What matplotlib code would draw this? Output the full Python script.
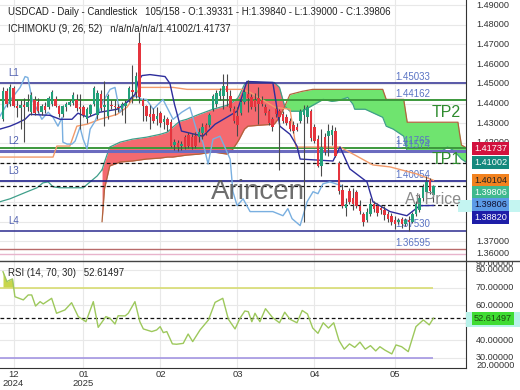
import numpy as np
import matplotlib.pyplot as plt
from matplotlib.lines import Line2D
from matplotlib.patches import Rectangle

plt.rcParams['font.family'] = ['Liberation Sans', 'DejaVu Sans']

W, H = 520, 390

# ---- candles (bar index on the chart) ----
opens = [1.4320, 1.4462, 1.4400, 1.4480, 1.4390, 1.4375, 1.4395, 1.4380, 1.4355, 1.4420,
         1.4410, 1.4355, 1.4385, 1.4380, 1.4400, 1.4425, 1.4385, 1.4345, 1.4380, 1.4395,
         1.4405, 1.4420, 1.4380, 1.4380, 1.4320, 1.4345, 1.4400, 1.4340, 1.4450, 1.4380,
         1.4335, 1.4395, 1.4390, 1.4380, 1.4370, 1.4390, 1.4425, 1.4470, 1.4460, 1.4710,
         1.4420, 1.4385, 1.4345, 1.4345, 1.4320, 1.4350, 1.4305, 1.4320, 1.4305, 1.4190,
         1.4200, 1.4185, 1.4230, 1.4240, 1.4230, 1.4235, 1.4230, 1.4250, 1.4290, 1.4290,
         1.4370, 1.4400, 1.4440, 1.4440, 1.4490, 1.4440, 1.4370, 1.4335, 1.4350, 1.4410,
         1.4450, 1.4435, 1.4420, 1.4430, 1.4420, 1.4380, 1.4360, 1.4320, 1.4370, 1.4360,
         1.4345, 1.4330, 1.4310, 1.4290, 1.4280, 1.4310, 1.4340, 1.4330, 1.4360, 1.4280,
         1.4220, 1.4085, 1.4230, 1.4235, 1.4240, 1.4260, 1.4100, 1.3960, 1.3870, 1.3955,
         1.3920, 1.3950, 1.3880, 1.3840, 1.3810, 1.3840, 1.3890, 1.3880, 1.3870, 1.3860,
         1.3840, 1.3830, 1.3810, 1.3800, 1.3815, 1.3790, 1.3810, 1.3800, 1.3840, 1.3860,
         1.3920, 1.3950, 1.4010, 1.39331]
highs = [1.4482, 1.4480, 1.4500, 1.4490, 1.4420, 1.4420, 1.4430, 1.4450, 1.4460, 1.4440,
         1.4430, 1.4400, 1.4410, 1.4440, 1.4470, 1.4440, 1.4395, 1.4395, 1.4410, 1.4420,
         1.4460, 1.4450, 1.4450, 1.4395, 1.4380, 1.4400, 1.4490, 1.4470, 1.4470, 1.4512,
         1.4450, 1.4420, 1.4420, 1.4400, 1.4410, 1.4420, 1.4490, 1.4598, 1.4560, 1.4765,
         1.4430, 1.4395, 1.4395, 1.4375, 1.4380, 1.4360, 1.4340, 1.4330, 1.4320, 1.4220,
         1.4215, 1.4210, 1.4240, 1.4255, 1.4250, 1.4255, 1.4275, 1.4300, 1.4300, 1.4350,
         1.4450, 1.4470, 1.4480, 1.4548, 1.4548, 1.4470, 1.4390, 1.4380, 1.4420, 1.4475,
         1.4522, 1.4450, 1.4455, 1.4482, 1.4440, 1.4400, 1.4370, 1.4330, 1.4390, 1.4370,
         1.4360, 1.4345, 1.4325, 1.4310, 1.4300, 1.4370, 1.4395, 1.4395, 1.4370, 1.4295,
         1.4240, 1.4270, 1.4250, 1.4295, 1.4290, 1.4280, 1.4110, 1.3990, 1.3920, 1.3970,
         1.3970, 1.3960, 1.3910, 1.3850, 1.3870, 1.3920, 1.3905, 1.3895, 1.3885, 1.3880,
         1.3855, 1.3845, 1.3830, 1.3820, 1.3825, 1.3820, 1.3830, 1.3850, 1.3905, 1.3940,
         1.3990, 1.4030, 1.4020, 1.39840]
lows = [1.4310, 1.4380, 1.4390, 1.4380, 1.4330, 1.4270, 1.4205, 1.4360, 1.4340, 1.4340,
        1.4350, 1.4340, 1.4350, 1.4370, 1.4390, 1.4380, 1.4330, 1.4330, 1.4360, 1.4385,
        1.4395, 1.4360, 1.4270, 1.4330, 1.4300, 1.4335, 1.4390, 1.4320, 1.4360, 1.4285,
        1.4320, 1.4370, 1.4340, 1.4355, 1.4340, 1.4300, 1.4410, 1.4405, 1.4430, 1.4405,
        1.4310, 1.4310, 1.4270, 1.4300, 1.4290, 1.4280, 1.4270, 1.4260, 1.4180, 1.4165,
        1.4160, 1.4165, 1.4170, 1.4175, 1.4170, 1.4175, 1.4205, 1.4220, 1.4240, 1.4280,
        1.4360, 1.4380, 1.4420, 1.4370, 1.4385, 1.4360, 1.4300, 1.4235, 1.4340, 1.4400,
        1.4355, 1.4370, 1.4360, 1.4295, 1.4390, 1.4340, 1.4290, 1.4260, 1.4330, 1.4060,
        1.4300, 1.4290, 1.4260, 1.4250, 1.4260, 1.4300, 1.3800, 1.4300, 1.4210, 1.4200,
        1.4080, 1.4030, 1.4140, 1.4135, 1.4190, 1.4130, 1.3940, 1.3870, 1.3830, 1.3890,
        1.3860, 1.3870, 1.3840, 1.3780, 1.3800, 1.3830, 1.3850, 1.3830, 1.3840, 1.3810,
        1.3800, 1.3785, 1.3765, 1.3790, 1.3770, 1.3780, 1.3750, 1.3795, 1.3830, 1.3850,
        1.3905, 1.3940, 1.3940, 1.39000]
closes = [1.4462, 1.4400, 1.4482, 1.4390, 1.4375, 1.4395, 1.4380, 1.4410, 1.4445, 1.4350,
          1.4360, 1.4385, 1.4365, 1.4430, 1.4460, 1.4390, 1.4345, 1.4385, 1.4400, 1.4410,
          1.4445, 1.4375, 1.4370, 1.4340, 1.4370, 1.4395, 1.4480, 1.4455, 1.4375, 1.4395,
          1.4440, 1.4385, 1.4380, 1.4375, 1.4400, 1.4405, 1.4480, 1.4460, 1.4540, 1.4435,
          1.4390, 1.4335, 1.4330, 1.4310, 1.4335, 1.4300, 1.4320, 1.4290, 1.4185, 1.4205,
          1.4180, 1.4195, 1.4180, 1.4185, 1.4180, 1.4185, 1.4255, 1.4280, 1.4255, 1.4340,
          1.4440, 1.4455, 1.4465, 1.4490, 1.4460, 1.4375, 1.4310, 1.4290, 1.4410, 1.4460,
          1.4430, 1.4380, 1.4380, 1.4400, 1.4400, 1.4350, 1.4300, 1.4280, 1.4345, 1.4330,
          1.4310, 1.4300, 1.4270, 1.4260, 1.4265, 1.4360, 1.4370, 1.4380, 1.4225, 1.4210,
          1.4085, 1.4180, 1.4155, 1.4260, 1.4265, 1.4135, 1.3955, 1.3880, 1.3890, 1.3900,
          1.3890, 1.3880, 1.3855, 1.3800, 1.3850, 1.3890, 1.3865, 1.3845, 1.3860, 1.3835,
          1.3815, 1.3800, 1.3790, 1.3810, 1.3790, 1.3810, 1.3800, 1.3840, 1.3890, 1.3920,
          1.3975, 1.4000, 1.3955, 1.39806]

# ---- ichimoku lines (bar index, price) ----
tenkan_x = [-0.9, 2, 4, 6.3, 7.7, 13.4, 16.3, 19.7, 21.4, 24.3, 27.7, 32.6, 35.7, 37.7, 38.6,
            39.7, 42, 46.3, 47.7, 49, 50, 51, 57.1, 60.6, 66.9, 69.7, 77.1, 79.1, 82, 84, 84.9,
            94.3, 96.3, 99.1, 104, 105.7, 110.6, 115.4, 119.1, 123]
tenkan = [1.4270, 1.4285, 1.4300, 1.4320, 1.4345, 1.4340, 1.4320, 1.4320, 1.4351, 1.4330,
          1.4356, 1.4371, 1.4411, 1.4446, 1.4512, 1.4542, 1.4547, 1.4537, 1.4502, 1.4396,
          1.4330, 1.4260, 1.4234, 1.4295, 1.4361, 1.4512, 1.4507, 1.4285, 1.4244, 1.4184,
          1.4118, 1.4108, 1.4179, 1.4068, 1.4002, 1.3901, 1.3851, 1.3830, 1.3881, 1.3882]
kijun_x = [-0.9, 14.3, 15.4, 19.1, 21.1, 24, 27.7, 32.6, 35.4, 38.3, 39.1, 48.6, 52.6, 68.3,
           70.6, 74, 77.7, 82, 83.7, 96.3, 101.1, 105.7, 110.6, 118.3, 123]
kijun = [1.4128, 1.4128, 1.4184, 1.4184, 1.4285, 1.4295, 1.4320, 1.4345, 1.4381, 1.4457,
         1.4482, 1.4482, 1.4472, 1.4472, 1.4457, 1.4421, 1.4381, 1.4371, 1.4179, 1.4179,
         1.4133, 1.4088, 1.4078, 1.4042, 1.4010]
chikou_x = [-0.9, 0.6, 2.9, 4.9, 6.3, 7.1, 8.3, 9.7, 11.1, 12.9, 14.3, 15.7, 16.9, 17.1, 18.3,
            19.7, 20.6, 22, 22.9, 24, 24.9, 26.3, 28.6, 30.6, 32, 33.4, 34.6, 35.7, 36.9, 38.3,
            39.7, 41, 42.9, 45.7, 48.6, 51.1, 53.4, 55.4, 57.1, 58.6, 60, 62, 64.9, 65.7, 66.9,
            68.6, 70.6, 73.4, 77.1, 80, 81.4, 82.6, 84.9, 86.9, 88.6, 90, 91.4, 93.4, 97]
chikou = [1.4335, 1.4381, 1.4436, 1.4482, 1.4537, 1.4532, 1.4421, 1.4371, 1.4320, 1.4356,
          1.4330, 1.4285, 1.4330, 1.4204, 1.4194, 1.4194, 1.4209, 1.4280, 1.4219, 1.4169,
          1.4270, 1.4310, 1.4411, 1.4472, 1.4482, 1.4356, 1.4391, 1.4411, 1.4436, 1.4436,
          1.4421, 1.4421, 1.4371, 1.4421, 1.4320, 1.4356, 1.4381, 1.4260, 1.4204, 1.4093,
          1.4219, 1.4234, 1.4118, 1.3952, 1.3881, 1.3916, 1.3851, 1.3851, 1.3851, 1.3830,
          1.3866, 1.3815, 1.3780, 1.3901, 1.3952, 1.3942, 1.3992, 1.4002, 1.3981]
span_a_early_x = [-0.9, 2, 6.9, 9.7, 11.4, 12.9, 14.3, 16.3, 22.9, 24.9, 26.9, 28.3]
span_a_early = [1.3901, 1.3916, 1.3952, 1.3972, 1.3997, 1.4002, 1.3977, 1.3972, 1.3972,
                1.4002, 1.4032, 1.4063]
cloud_x = [28.3, 29, 30.5, 33.5, 37, 41, 45, 47, 48.5, 50.5, 52.5, 56, 60, 64, 65.5, 67,
           67.5, 69, 70, 73.5, 77.5, 79, 80.5, 82, 85.5, 88.5, 91.5, 94, 96, 98.5, 100, 100.5,
           103.5, 108.5, 109.5, 111.5, 114.5, 115.5, 125.5, 127, 128.5, 130, 130.5, 131, 132.5]
span_a = [1.4063, 1.4103, 1.4179, 1.4204, 1.4219, 1.4229, 1.4244, 1.4255, 1.4280, 1.4310,
          1.4320, 1.4345, 1.4371, 1.4391, 1.4406, 1.4426, 1.4441, 1.4497, 1.4512, 1.4507,
          1.4507, 1.4482, 1.4386, 1.4361, 1.4361, 1.4391, 1.4421, 1.4411, 1.4416, 1.4431,
          1.4396, 1.4371, 1.4371, 1.4330, 1.4285, 1.4270, 1.4234, 1.4154, 1.4159, 1.4179,
          1.4164, 1.4138, 1.4128, 1.4118, 1.4100]
span_b = [1.3800, 1.3967, 1.4083, 1.4103, 1.4108, 1.4118, 1.4123, 1.4128, 1.4128, 1.4133,
          1.4138, 1.4143, 1.4154, 1.4143, 1.4164, 1.4204, 1.4219, 1.4270, 1.4285, 1.4290,
          1.4295, 1.4330, 1.4386, 1.4446, 1.4462, 1.4472, 1.4472, 1.4472, 1.4472, 1.4472,
          1.4472, 1.4472, 1.4472, 1.4472, 1.4421, 1.4421, 1.4421, 1.4305, 1.4305, 1.4305,
          1.4305, 1.4305, 1.4244, 1.4189, 1.4174]

# ---- RSI (bar index, value) ----
rsi_x = [0, 1.1, 2, 2.7, 3.4, 5.8, 7.2, 8.2, 9.3, 10.6, 11.5, 13.9, 15.3, 17.7, 19.6, 21.5,
         23.7, 25.8, 27.2, 29.4, 30.6, 32, 32.9, 34.9, 35.8, 37.7, 39.1, 40.1, 42.5, 43.9,
         44.9, 45.8, 46.8, 48.4, 49.6, 51.5, 52.9, 54.2, 56.3, 58.7, 60.6, 62.8, 64.4, 66.3,
         67.7, 69.1, 70.1, 71.1, 72, 73.4, 75, 77, 79, 80.5, 82, 84, 85.5, 87, 88.5, 90,
         91.5, 93, 94.5, 96, 97.5, 99, 100.5, 102, 103.5, 105, 106.5, 107.7, 109.1, 111.1,
         112.3, 113.9, 115.8, 118, 120.1, 121.8, 123]
rsi = [79.0, 73.4, 74.3, 74.9, 64.8, 63.0, 65.8, 65.8, 59.5, 62.0, 60.7, 63.9, 55.4, 57.3,
       61.4, 53.5, 50.6, 62.0, 47.4, 53.5, 52.5, 49.3, 54.0, 53.9, 55.4, 62.0, 50.6, 46.5,
       45.0, 45.9, 47.8, 44.4, 45.0, 38.0, 37.8, 38.3, 43.6, 39.3, 45.9, 51.6, 61.6, 63.9,
       52.0, 46.5, 52.5, 56.7, 56.3, 50.6, 55.4, 50.6, 58.0, 53.0, 50.0, 56.0, 52.0, 50.0,
       57.0, 55.0, 47.0, 44.0, 50.0, 47.0, 50.0, 40.0, 35.0, 38.0, 36.0, 39.0, 35.0, 37.0,
       34.0, 36.4, 34.5, 32.3, 37.4, 36.4, 33.6, 47.8, 51.6, 48.8, 52.61497]

month_ticks = [3, 23, 45, 67, 89, 112]
month_labels = ["12\n2024", "01\n2025", "02", "03", "04", "05"]

l_levels = [1.45033, 1.41574, 1.40054, 1.37530]
l_names = ["L1", "L2", "L3", "L4"]
tp_levels = [1.44162, 1.41765]
tp_names = ["TP2", "TP1"]
last_levels = [1.41002, 1.39806, 1.38820]
low_levels = [1.36595, 1.36350]

right_values = [1.41737, 1.41002, 1.40104, 1.39806, 1.39806, 1.38820]
right_bg = ['#d2123e', '#14897e', '#f2821e', '#3fb98e', '#5b9be6', '#1e1ea8']
right_fg = ['white', 'white', '#222222', 'white', '#111133', 'white']


def fx(px):
    return px / W


def fy(py):
    return 1 - py / H


fig = plt.figure(figsize=(5.2, 3.9), dpi=100)
ax = fig.add_axes([0, fy(261), fx(466), 261 / H])
axr = fig.add_axes([0, fy(368), fx(466), 107 / H], sharex=ax)

ax.set_xlim(-0.86, 132.3)
ax.set_ylim(1.3608, 1.4926)
axr.set_ylim(24.3, 85.1)

ax.set_yticks(np.arange(1.36, 1.495, 0.01))
axr.set_xticks(month_ticks)
axr.set_xticklabels(month_labels, linespacing=0.95)
axr.set_yticks(range(30, 90, 10))
for a in (ax, axr):
    a.grid(True, color='#e8e8e8', lw=0.8, zorder=0)
    a.set_axisbelow(True)
    a.tick_params(left=False, labelleft=False, length=0)
    for s in ('left', 'top', 'bottom'):
        a.spines[s].set_visible(False)
    a.spines['right'].set_color('#333333')
ax.tick_params(labelbottom=False)
axr.spines['bottom'].set_visible(True)
axr.spines['bottom'].set_color('#333333')
axr.tick_params(labelsize=6.8, colors='#333333', pad=1.5)
fig.add_artist(Line2D([0, 1], [fy(261), fy(261)], color='#444444', lw=1))

# cloud
cx = np.array(cloud_x)
sa = np.array(span_a)
sb = np.array(span_b)
ax.fill_between(cx, sa, sb, where=sa >= sb, interpolate=True, color='#f46a70', lw=0, zorder=1)
ax.fill_between(cx, sa, sb, where=sa <= sb, interpolate=True, color='#6fe46f', lw=0, zorder=1)
ax.plot(cx, sa, color='#3f9f8a', lw=0.9, zorder=2)
ax.plot(cx, sb, color='#b0643c', lw=0.9, zorder=2)
ax.plot(span_a_early_x, span_a_early, color='#3f9f8a', lw=0.9, zorder=2)

# level lines
for v, c, lw in zip(l_levels, ['#2b2b8f', '#6b6bbf', '#1f1f8a', '#2b2b8f'], [1.1, 2.2, 1.2, 1.1]):
    ax.axhline(v, color=c, lw=lw, zorder=2)
for v in tp_levels:
    ax.axhline(v, color='#3c983c', lw=1.4, zorder=2)
for v in last_levels:
    ax.axhline(v, color='#111111', lw=0.9, ls=(0, (3, 2)), zorder=2)
ax.axhline(low_levels[0], color='#b86a6a', lw=1, zorder=2)
ax.axhline(low_levels[1], color='#e8b4cc', lw=1, zorder=2)

for v, n in zip(l_levels, l_names):
    ax.annotate(n, (1.4, v), xytext=(0, 3.5), textcoords='offset points', va='bottom',
                fontsize=7, color='#5060b0', zorder=3)
for v in [1.45033, 1.44162, 1.41765, 1.41574, 1.40054, 1.37530, 1.36595]:
    ax.annotate(f'{v:.5f}', (112, v), xytext=(0, 1), textcoords='offset points', va='bottom',
                fontsize=7, color='#5a74c4', zorder=3)
for v, n in zip(tp_levels, tp_names):
    ax.annotate(n, (122.6, v), xytext=(0, -3.5), textcoords='offset points', va='top',
                fontsize=11.5, color='#2e8b2e', zorder=6)

# ichimoku lines
ax.plot(kijun_x, kijun, color='#f29a6a', lw=1, zorder=3)
ax.plot(chikou_x, chikou, color='#79afe0', lw=1, zorder=3)
ax.plot(tenkan_x, tenkan, color='#2d2d9c', lw=1, zorder=3)

# candles
o = np.array(opens)
h = np.array(highs)
lo = np.array(lows)
c = np.array(closes)
x = np.arange(len(c))
ax.vlines(x, lo, h, color='#4a4a4a', lw=0.8, zorder=4)
ax.bar(x, np.maximum(np.abs(c - o), 0.0003), bottom=np.minimum(o, c), width=0.62,
       color=np.where(c >= o, '#22a07a', '#e5343d'), lw=0, zorder=5)

# watermark texts
fig.text(fx(258), fy(192), 'Arincen', ha='center', va='center', fontsize=20,
         color='#555555', alpha=0.85)
fig.text(fx(405), fy(200), 'At Price', va='center', fontsize=11.5, color='#8a8a8a')

# headers
fig.text(fx(8), fy(12), 'USDCAD - Daily - Candlestick   105/158 - O:1.39331 - H:1.39840 - '
         'L:1.39000 - C:1.39806', va='center', fontsize=6.9, color='#222222')
fig.text(fx(8), fy(29), 'ICHIMOKU (9, 26, 52)   n/a/n/a/n/a/1.41002/1.41737', va='center',
         fontsize=6.9, color='#222222')
fig.text(fx(8), fy(273), 'RSI (14, 70, 30)   52.61497', va='center', fontsize=6.9,
         color='#222222')

# RSI panel
rx = np.array(rsi_x)
rv = np.array(rsi)
axr.fill_between(rx, rv, 70, where=rv >= 70, interpolate=True, color='#c8d64c', lw=0)
axr.hlines(70, -0.86, 123, color='#d8dc72', lw=1.2)
axr.hlines(30, -0.86, 123, color='#a496e2', lw=1.2)
axr.axhline(rsi[-1], color='#111111', lw=0.9, ls=(0, (3, 2)))
axr.plot(rx, rv, color='#9dc85c', lw=1)

# right price scale
lab = fig.add_axes([fx(466), fy(261), fx(54), 261 / H])
lab.set_ylim(ax.get_ylim())
lab.axis('off')
for v in np.arange(1.37, 1.495, 0.01):
    lab.text(0.185, v, f'{v:.5f}', va='center', fontsize=6.6, color='#333333', clip_on=True)
lab.annotate('1.36000', (0.185, 0), xycoords='axes fraction', xytext=(0, 2),
             textcoords='offset points', va='bottom', fontsize=6.6, color='#333333')

labr = fig.add_axes([fx(466), fy(368), fx(54), 107 / H])
labr.set_ylim(axr.get_ylim())
labr.axis('off')
for v in range(30, 90, 10):
    labr.text(0.185, v, f'{v:.5f}', va='center', fontsize=6.6, color='#333333', clip_on=True)
labr.annotate('90.00000', (0.185, 1), xycoords='axes fraction', xytext=(0, -1.8),
              textcoords='offset points', va='center', fontsize=6.6, color='#333333',
              annotation_clip=False, clip_on=True)
labr.annotate('20.00000', (0.185, 0), xycoords='axes fraction', xytext=(0, 1.5),
              textcoords='offset points', va='center', fontsize=6.6, color='#333333',
              annotation_clip=False, clip_on=True)

# highlight bands and value tags
fig.add_artist(Rectangle((fx(458), fy(212)), fx(62), 12 / H, transform=fig.transFigure,
                         color='#c4f5f1', lw=0, zorder=2))
fig.add_artist(Rectangle((fx(466), fy(327)), fx(54), 15 / H, transform=fig.transFigure,
                         color='#b8f2ea', lw=0, zorder=2))

prev = -1e9
for v, bg, fg in zip(right_values, right_bg, right_fg):
    py = H - ax.transData.transform((0, v))[1]
    py = max(py, prev + 12.3)
    prev = py
    fig.text(fx(474), fy(py), f'{v:.5f}', va='center', fontsize=6.6, color=fg, zorder=4,
             bbox=dict(boxstyle='square,pad=0.22', fc=bg, ec='none'))
py = H - axr.transData.transform((0, rsi[-1]))[1]
fig.text(fx(474), fy(py), f'{rsi[-1]:.5f}', va='center', fontsize=6.6, color='#1c4a10', zorder=4,
         bbox=dict(boxstyle='square,pad=0.22', fc='#3fdc33', ec='none'))

fig.savefig('out.png', dpi=100)
